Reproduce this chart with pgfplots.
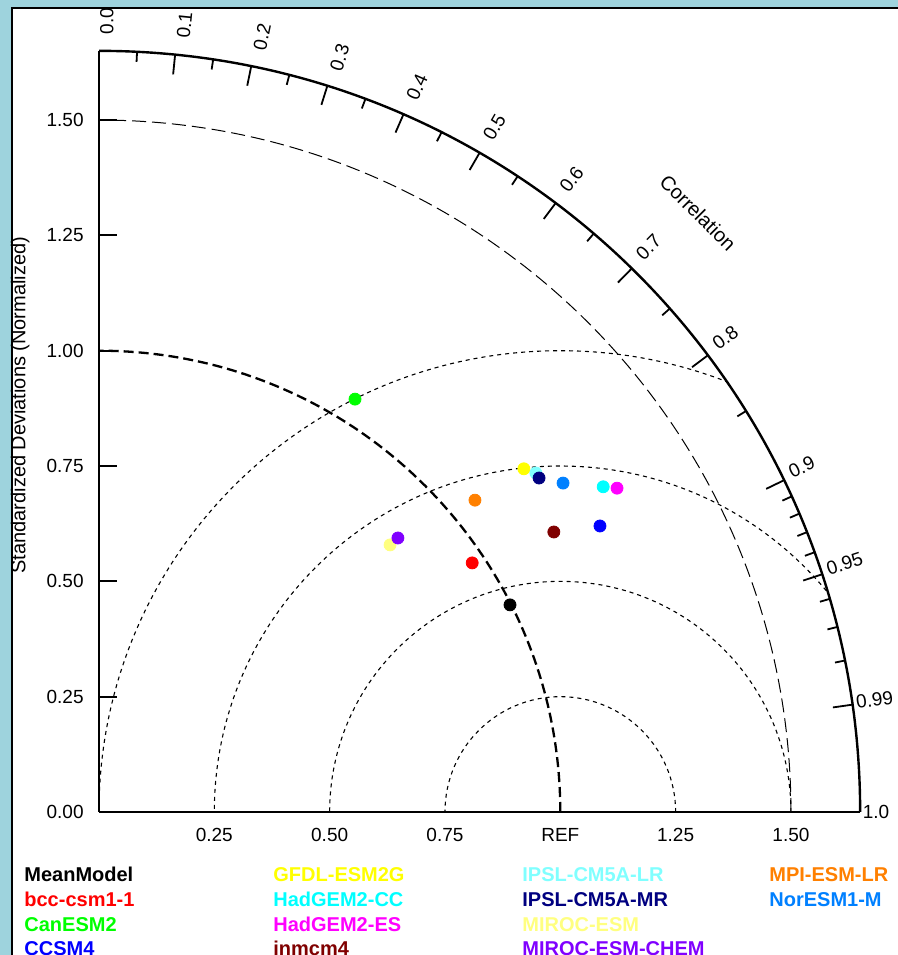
\documentclass[border=0pt]{standalone}
\usepackage{pgfplots}
\pgfplotsset{compat=1.18}
\usepackage{fontspec}
\setmainfont{Liberation Sans}
\definecolor{bgblue}{RGB}{158,211,221}
\definecolor{cMean}{RGB}{0,0,0}
\definecolor{cBcc}{RGB}{255,0,0}
\definecolor{cCan}{RGB}{0,255,0}
\definecolor{cCCSM}{RGB}{0,0,255}
\definecolor{cGFDL}{RGB}{255,255,0}
\definecolor{cHadCC}{RGB}{0,255,255}
\definecolor{cHadES}{RGB}{255,0,255}
\definecolor{cInm}{RGB}{128,0,0}
\definecolor{cIpslLR}{RGB}{128,255,255}
\definecolor{cIpslMR}{RGB}{0,0,128}
\definecolor{cMiroc}{RGB}{255,255,128}
\definecolor{cMirocC}{RGB}{128,0,255}
\definecolor{cMPI}{RGB}{255,128,0}
\definecolor{cNor}{RGB}{0,128,255}
\newcommand{\tickfont}{\fontsize{9.5}{11}\selectfont}
\newcommand{\labfont}{\fontsize{10}{12}\selectfont}
\newcommand{\legfont}{\bfseries\fontsize{10}{12}\selectfont}
\begin{document}
\begin{tikzpicture}
\useasboundingbox (0,0) rectangle (449pt,477.5pt);
\clip (0,0) rectangle (449pt,477.5pt);
\fill[bgblue] (0,0) rectangle (449pt,477.5pt);
\fill[white] (6pt,-5pt) rectangle (460pt,473.5pt);
\draw[line width=0.9pt] (6pt,-5pt) -- (6pt,473.5pt) -- (460pt,473.5pt);
\begin{axis}[at={(49.5pt,71.5pt)}, anchor=origin,
  x=230.65pt, y=230.65pt,
  xmin=0, xmax=1.65, ymin=0, ymax=1.65,
  hide axis, clip=false]
% centred RMS arcs around REF
\begin{scope}
\clip (axis cs:0,0) -- (axis cs:1.65,0) arc[start angle=0,end angle=90,radius=380.5725pt] -- cycle;
\draw[line width=0.55pt, dash pattern=on 2pt off 2pt] (axis cs:1.25,0) arc[start angle=0,end angle=180,radius=57.6625pt];
\draw[line width=0.55pt, dash pattern=on 2pt off 2pt] (axis cs:1.5,0) arc[start angle=0,end angle=180,radius=115.325pt];
\draw[line width=0.55pt, dash pattern=on 2pt off 2pt] (axis cs:1.75,0) arc[start angle=0,end angle=180,radius=172.9875pt];
\draw[line width=0.55pt, dash pattern=on 2pt off 2pt] (axis cs:2.0,0) arc[start angle=0,end angle=180,radius=230.65pt];
\end{scope}
% std dev arcs
\draw[line width=0.5pt, dash pattern=on 7pt off 3pt] (axis cs:1.5,0) arc[start angle=0,end angle=90,radius=345.975pt];
\draw[line width=1.15pt, dash pattern=on 5pt off 2.5pt] (axis cs:1,0) arc[start angle=0,end angle=90,radius=230.65pt];
% axes
\draw[line width=0.6pt] (axis cs:0,1.65) -- (axis cs:0,0);
\draw[line width=0.8pt] (axis cs:0,0) -- (axis cs:1.65,0);
\draw[line width=1.2pt] (axis cs:1.65,0) arc[start angle=0,end angle=90,radius=380.5725pt];
% correlation ticks
\pgfplotsinvokeforeach{0.1,0.2,0.3,0.4,0.5,0.6,0.7,0.8,0.9,0.95,0.99}{
  \draw[line width=0.9pt] (axis cs:{1.65*#1},{1.65*sqrt(1-#1*#1)}) -- (axis cs:{1.607*#1},{1.607*sqrt(1-#1*#1)});
}
\pgfplotsinvokeforeach{0.05,0.15,0.25,0.35,0.45,0.55,0.65,0.75,0.85,0.91,0.92,0.93,0.94,0.96,0.97,0.98}{
  \draw[line width=0.9pt] (axis cs:{1.65*#1},{1.65*sqrt(1-#1*#1)}) -- (axis cs:{1.628*#1},{1.628*sqrt(1-#1*#1)});
}
\pgfplotsinvokeforeach{0.0,0.1,0.2,0.3,0.4,0.5,0.6,0.7,0.8,0.9,0.95,0.99,1.0}{
  \node[rotate={acos(#1)}, anchor=west, inner sep=0pt, font=\tickfont] at (axis cs:{1.655*#1+0.017*sqrt(1-#1*#1)},{1.685*sqrt(1-#1*#1)}) {#1};
}
% y ticks
\pgfplotsinvokeforeach{0.00,0.25,0.50,0.75,1.00,1.25,1.50}{
  \draw[line width=0.9pt] (axis cs:0,#1) -- (axis cs:0.04,#1);
  \node[anchor=east, inner sep=0pt, font=\tickfont] at (axis cs:-0.0325,#1) {#1};
}
% x tick labels
\pgfplotsinvokeforeach{0.25,0.50,0.75,1.25,1.50}{
  \node[inner sep=0pt, font=\tickfont] at (axis cs:#1,-0.05) {#1};
}
\node[inner sep=0pt, font=\tickfont] at (axis cs:1.0,-0.05) {REF};
\node[rotate=90, inner sep=0pt, font=\labfont] at (axis cs:-0.171,0.882) {Standardized Deviations (Normalized)};
\node[rotate=-45, inner sep=0pt, font=\labfont] at (axis cs:1.2985,1.2985) {Correlation};
% models
\addplot[only marks, mark=*, mark size=3pt, color=cMean] coordinates {(0.891,0.449)};
\addplot[only marks, mark=*, mark size=3pt, color=cBcc] coordinates {(0.809,0.540)};
\addplot[only marks, mark=*, mark size=3pt, color=cCan] coordinates {(0.555,0.895)};
\addplot[only marks, mark=*, mark size=3pt, color=cCCSM] coordinates {(1.086,0.620)};
\addplot[only marks, mark=*, mark size=3pt, color=cGFDL] coordinates {(0.921,0.744)};
\addplot[only marks, mark=*, mark size=3pt, color=cHadCC] coordinates {(1.093,0.705)};
\addplot[only marks, mark=*, mark size=3pt, color=cHadES] coordinates {(1.123,0.702)};
\addplot[only marks, mark=*, mark size=3pt, color=cInm] coordinates {(0.986,0.607)};
\addplot[only marks, mark=*, mark size=3pt, color=cIpslLR] coordinates {(0.947,0.735)};
\addplot[only marks, mark=*, mark size=3pt, color=cIpslMR] coordinates {(0.954,0.724)};
\addplot[only marks, mark=*, mark size=3pt, color=cMiroc] coordinates {(0.631,0.579)};
\addplot[only marks, mark=*, mark size=3pt, color=cMirocC] coordinates {(0.648,0.594)};
\addplot[only marks, mark=*, mark size=3pt, color=cMPI] coordinates {(0.815,0.676)};
\addplot[only marks, mark=*, mark size=3pt, color=cNor] coordinates {(1.006,0.713)};
\end{axis}
% legend
\begin{scope}[every node/.style={anchor=base west, inner sep=0pt, font=\legfont}]
\node[text=cMean] at (12pt,36.5pt) {MeanModel};
\node[text=cBcc] at (12pt,24.25pt) {bcc-csm1-1};
\node[text=cCan] at (12pt,12pt) {CanESM2};
\node[text=cCCSM] at (12pt,-0.25pt) {CCSM4};
\node[text=cGFDL] at (136.5pt,36.5pt) {GFDL-ESM2G};
\node[text=cHadCC] at (136.5pt,24.25pt) {HadGEM2-CC};
\node[text=cHadES] at (136.5pt,12pt) {HadGEM2-ES};
\node[text=cInm] at (136.5pt,-0.25pt) {inmcm4};
\node[text=cIpslLR] at (261pt,36.5pt) {IPSL-CM5A-LR};
\node[text=cIpslMR] at (261pt,24.25pt) {IPSL-CM5A-MR};
\node[text=cMiroc] at (261pt,12pt) {MIROC-ESM};
\node[text=cMirocC] at (261pt,-0.25pt) {MIROC-ESM-CHEM};
\node[text=cMPI] at (384.5pt,36.5pt) {MPI-ESM-LR};
\node[text=cNor] at (384.5pt,24.25pt) {NorESM1-M};
\end{scope}
\end{tikzpicture}
\end{document}
